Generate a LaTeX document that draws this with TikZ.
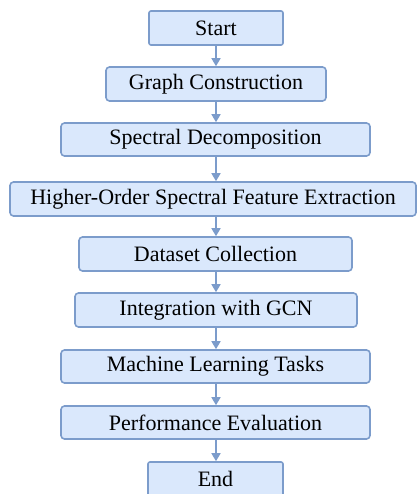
\documentclass[tikz,border=0pt]{standalone}
\usepackage{fontspec}
\setmainfont{Liberation Serif}
\usetikzlibrary{arrows.meta}
\definecolor{boxfill}{HTML}{DAE8FC}
\definecolor{boxline}{HTML}{7C9CCB}
\begin{document}
\begin{tikzpicture}[x=1pt,y=-1pt,
  stepbox/.style={draw=boxline, fill=boxfill, line width=1.6pt, rounded corners=3.5pt,
    minimum height=34pt, inner sep=0pt, font=\rmfamily\fontsize{22}{26}\selectfont, text=black},
  flow/.style={draw=boxline, line width=1.6pt, -{Triangle[length=8pt,width=9pt]}}]
\useasboundingbox (0,0) rectangle (417,494);
\node[stepbox, minimum width=134pt, rounded corners=2pt] (s) at (216,28) {Start};
\node[stepbox, minimum width=220pt] (g) at (216,84) {Graph Construction};
\node[stepbox, minimum width=309pt, minimum height=33pt] (sd) at (215.5,139.5) {Spectral Decomposition};
\node[stepbox, minimum width=406pt] (h) at (213,199) {Higher-Order Spectral Feature Extraction};
\node[stepbox, minimum width=273pt] (d) at (215.5,254) {Dataset Collection};
\node[stepbox, minimum width=282pt] (i) at (216,310) {Integration with GCN};
\node[stepbox, minimum width=309pt, minimum height=33pt] (m) at (215.5,366.5) {Machine Learning Tasks};
\node[stepbox, minimum width=309pt, minimum height=33pt] (p) at (215.5,422.5) {Performance Evaluation};
\node[stepbox, minimum width=135pt, rounded corners=2pt] (e) at (215.5,479) {End};
\foreach \a/\b in {s/g,g/sd,sd/h,h/d,d/i,i/m,m/p,p/e}
  \draw[flow] (\a.south -| 216,0) -- (\b.north -| 216,0);
\end{tikzpicture}
\end{document}
